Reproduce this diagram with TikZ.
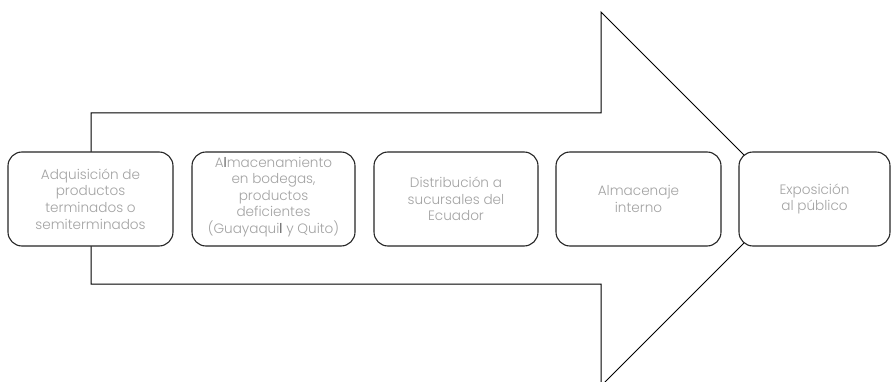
\documentclass[tikz,border=0pt]{standalone}
\usepackage{fontspec}
\setmainfont{Poppins}[UprightFont={* Light}]
\begin{document}
\begin{tikzpicture}[x=1pt,y=-1pt,
  arrowbody/.style={draw=black,line width=1pt,fill=white,line join=miter},
  stepbox/.style={draw=black!85,line width=1.1pt,fill=white,rounded corners=14pt},
  steptext/.style={text=black!36,font=\fontsize{13.6}{16.6}\selectfont,align=center}]
  \useasboundingbox (0,0) rectangle (891,382);
  % large block arrow behind the process steps
  \coordinate (s1) at (91,113);
  \coordinate (s2) at (601,113);
  \coordinate (h1) at (601,12);
  \coordinate (tip) at (788,199);
  \coordinate (h2) at (601,386);
  \coordinate (s3) at (601,284);
  \coordinate (s4) at (91,284);
  \begin{scope}
    \clip (0,0) rectangle (891,382);
    \draw[arrowbody] (s1) -- (s2) -- (h1) -- (tip) -- (h2) -- (s3) -- (s4) -- cycle;
  \end{scope}
  % process steps
  \draw[stepbox] (8,152) rectangle (173,246);
  \draw[stepbox] (192,152) rectangle (355,246);
  \draw[stepbox] (374,152) rectangle (538,246);
  \draw[stepbox] (556,152) rectangle (721,246);
  \draw[stepbox] (739,152) rectangle (890,246);
  \node[steptext] (b1) at (90.5,199) {Adquisición de\\productos\\terminados o\\semiterminados};
  \node[steptext] (b2) at (273.5,197) {A{\color{black!80}l}macenamiento\\en bodegas,\\productos\\deficientes\\(Guayaqui{\color{black!80}l} y Quito)};
  \node[steptext] (b3) at (456,199) {Distribución a\\sucursales del\\Ecuador};
  \node[steptext] (b4) at (638.5,199) {Almacenaje\\interno};
  \node[steptext] (b5) at (814.5,199) {Exposición\\al público};
\end{tikzpicture}
\end{document}
